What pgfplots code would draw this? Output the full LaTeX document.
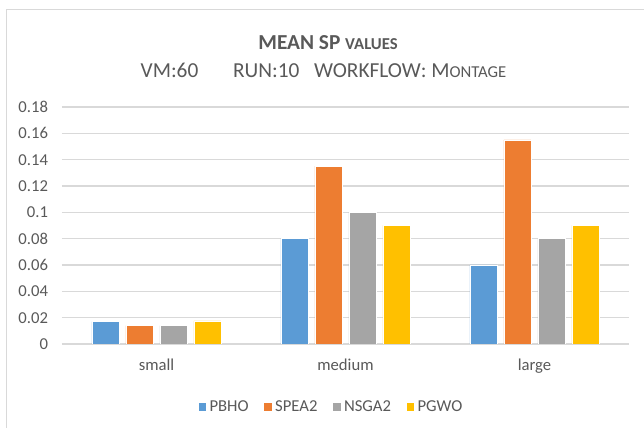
\documentclass[border=0pt]{standalone}
\usepackage{fontspec}
\setmainfont{Carlito}
\usepackage{pgfplots}
\pgfplotsset{compat=1.18}
\definecolor{cblue}{HTML}{5B9BD5}
\definecolor{corange}{HTML}{ED7D31}
\definecolor{cgray}{HTML}{A5A5A5}
\definecolor{cyellow}{HTML}{FFC000}
\definecolor{txt}{HTML}{595959}
\definecolor{gridc}{HTML}{D9D9D9}
\begin{document}
\begin{tikzpicture}
\begin{axis}[
  name=ax,
  width=425.25pt, height=177.75pt, scale only axis,
  ybar=5.25pt, bar width=20.25pt,
  xmin=-0.5, xmax=2.5, ymin=0, ymax=0.18,
  xtick={0,1,2}, xticklabels={small,medium,large},
  ytick={0,0.02,...,0.18},
  ymajorgrids, grid style={gridc, line width=0.9pt},
  axis line style={draw=none},
  major tick length=0pt,
  tick label style={font=\fontsize{12.5}{14}\selectfont, text=txt},
  /pgf/number format/assume math mode=true,
  /pgf/number format/.cd, fixed, precision=2, /pgfplots/.cd,
  yticklabel style={xshift=-7pt},
  xticklabel style={yshift=-8pt},
  legend style={at={(0.475,-0.266)}, anchor=center, legend columns=4, draw=none,
    font=\fontsize{12.5}{14}\selectfont, text=txt,
    /tikz/every even column/.append style={column sep=9pt}},
  legend image code/.code={\fill[#1] (0pt,-3pt) rectangle (6.5pt,3.5pt);},
]
\addplot[fill=cblue, draw=white, line width=0.4pt] coordinates {(0,0.017) (1,0.08) (2,0.06)};
\addplot[fill=corange, draw=white, line width=0.4pt] coordinates {(0,0.014) (1,0.135) (2,0.155)};
\addplot[fill=cgray, draw=white, line width=0.4pt] coordinates {(0,0.014) (1,0.10) (2,0.08)};
\addplot[fill=cyellow, draw=white, line width=0.4pt] coordinates {(0,0.0175) (1,0.09) (2,0.09)};
\legend{PBHO,SPEA2,NSGA2,PGWO}
\end{axis}
\begin{scope}[x=0.75pt,y=0.75pt,shift={(ax.south west)},shift={(-62,-84)}]
\useasboundingbox (0,0) rectangle (644,428);
\draw[gridc, line width=0.75pt] (7,-2) -- (7,418) -- (646,418);
\node[font=\bfseries\fontsize{16}{18}\selectfont, text=txt] at (328,385) {MEAN SP {\fontsize{12.5}{14}\selectfont VALUES}};
\node[font=\fontsize{16}{18}\selectfont, text=txt] at (323.5,358) {VM:60\hspace{26pt}RUN:10\hspace{11pt}WORKFLOW: M{\fontsize{12.5}{14}\selectfont ONTAGE}};
\end{scope}
\end{tikzpicture}
\end{document}
